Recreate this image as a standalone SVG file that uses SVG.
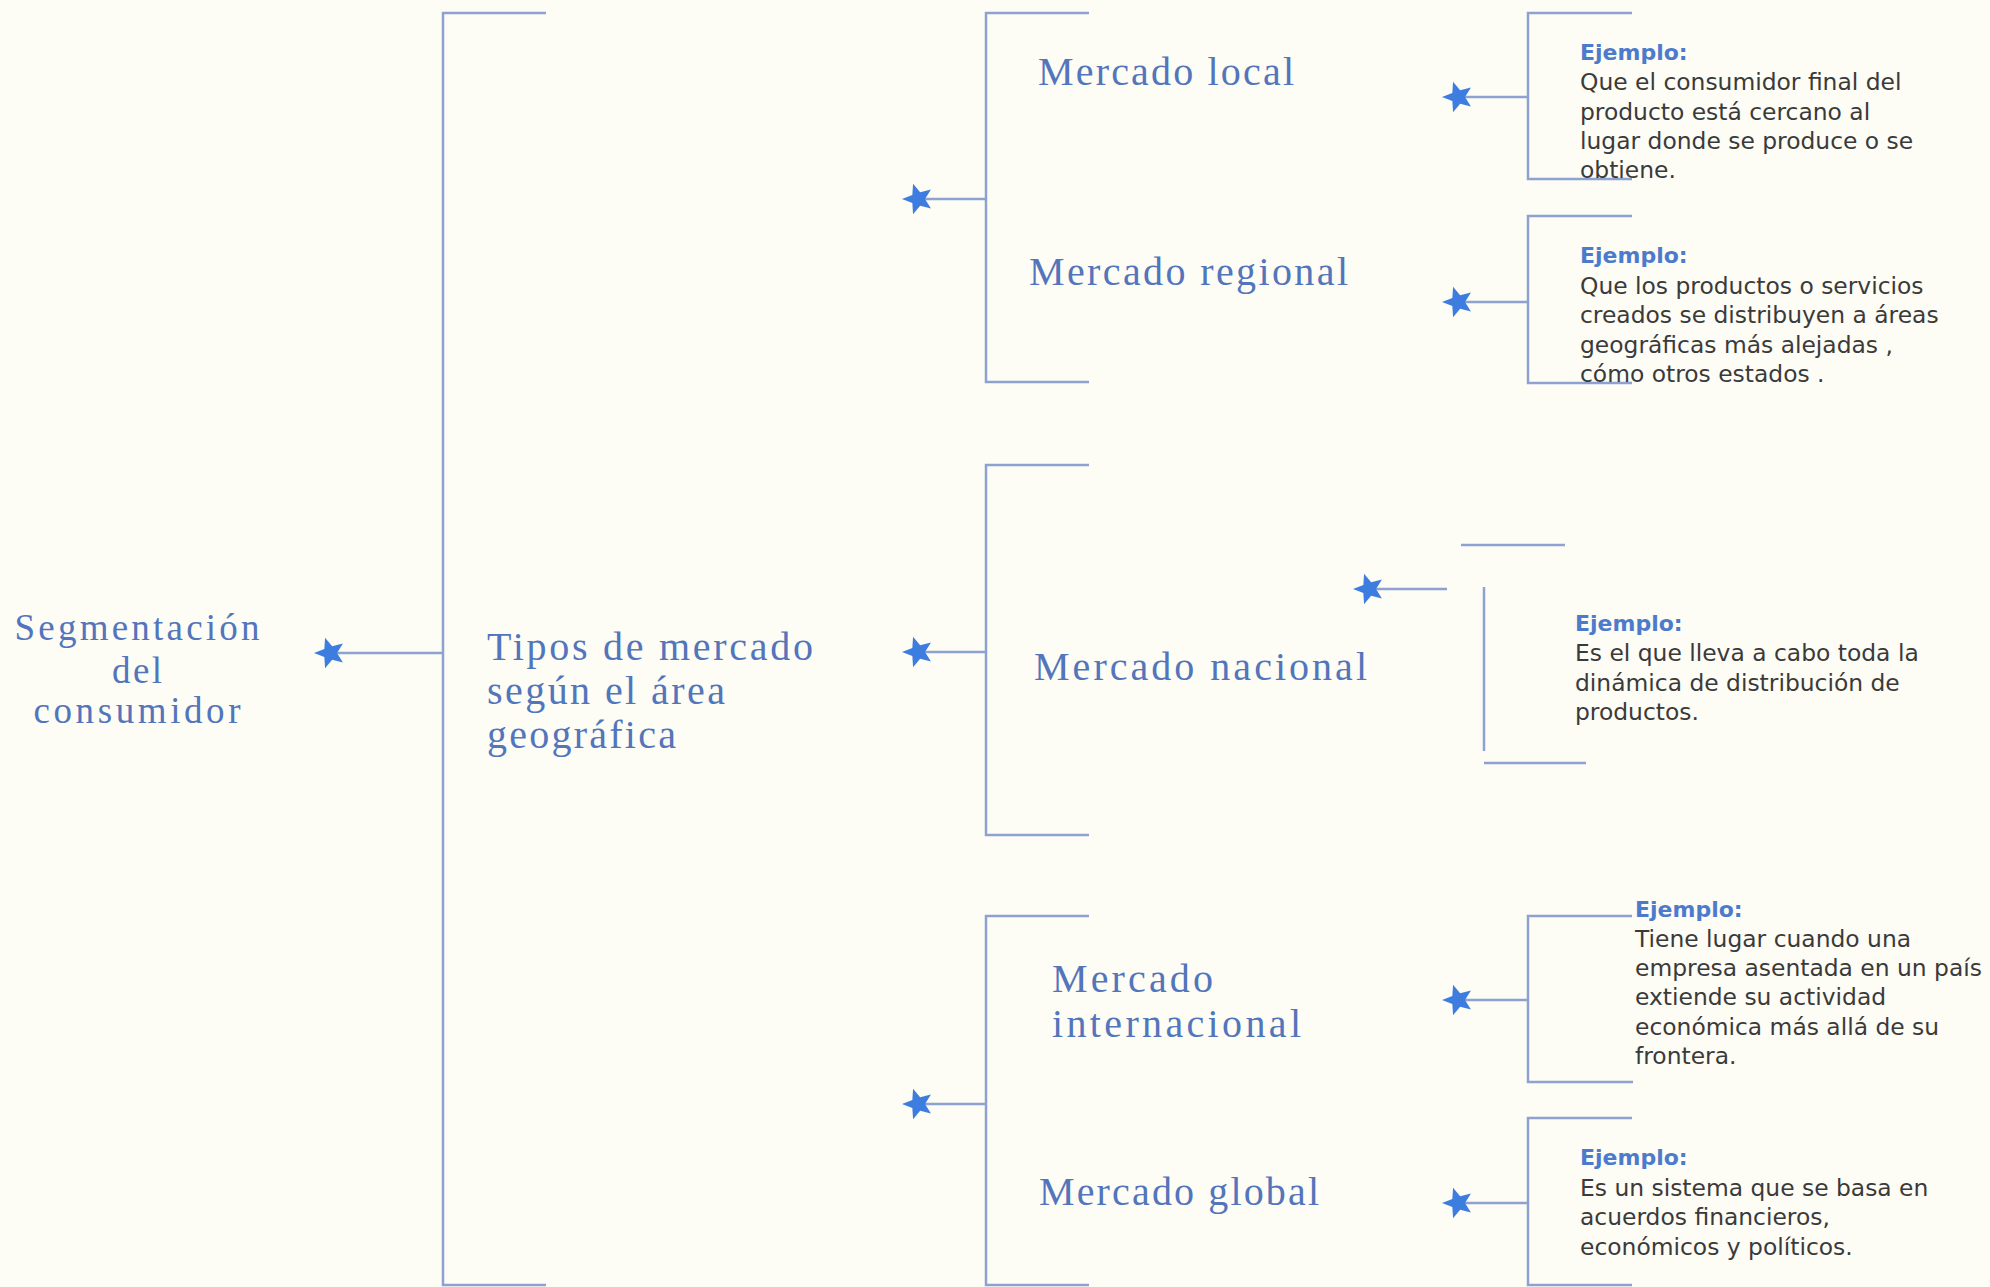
<svg xmlns="http://www.w3.org/2000/svg" width="1990" height="1287" viewBox="0 0 1990 1287">
<style>
.bg{fill:#fdfcf5}
.ln{fill:none;stroke:#8ea2d2;stroke-width:2.5}
.sl{fill:none;stroke:#8ea2d2;stroke-width:2.5;marker-start:url(#star)}
.t{font-family:"Liberation Serif","DejaVu Serif",serif;font-size:40px;fill:#5275bb}
.r{font-size:37px}
.h{font-family:"DejaVu Sans","Liberation Sans",sans-serif;font-size:22px;font-weight:bold;fill:#4d7bcc}
.b{font-family:"DejaVu Sans","Liberation Sans",sans-serif;font-size:23.4px;fill:#3a3a3a}
</style>
<defs>
<marker id="star" markerUnits="userSpaceOnUse" viewBox="-17 -17 34 34" markerWidth="34" markerHeight="34" refX="0" refY="0" orient="0">
<path d="M-16,0 L-5.66,-4.11 L-4.94,-15.22 L2.16,-6.66 L12.94,-9.4 L7,0 L12.94,9.4 L2.16,6.66 L-4.94,15.22 L-5.66,4.11 Z" fill="#3d7de0"/>
</marker>
</defs>
<rect class="bg" x="0" y="0" width="1990" height="1287"/>
<g id="connectors">
<path class="ln" d="M546,13 H443 V1285 H546"/>
<path class="ln" d="M1089,13 H986 V382 H1089"/>
<path class="ln" d="M1089,465 H986 V835 H1089"/>
<path class="ln" d="M1089,916 H986 V1285 H1089"/>
<path class="ln" d="M1632,13 H1528 V179 H1632"/>
<path class="ln" d="M1632,216 H1528 V383 H1632"/>
<path class="ln" d="M1461,545 H1565"/>
<path class="ln" d="M1484,587 V751"/>
<path class="ln" d="M1484,763 H1586"/>
<path class="ln" d="M1632,916 H1528 V1082 H1633"/>
<path class="ln" d="M1632,1118 H1528 V1285 H1632"/>
<path class="sl" d="M330,653 H443"/>
<path class="sl" d="M918,199 H986"/>
<path class="sl" d="M918,652 H986"/>
<path class="sl" d="M918,1104 H986"/>
<path class="sl" d="M1458,97 H1528"/>
<path class="sl" d="M1458,302 H1528"/>
<path class="sl" d="M1369,589 H1447"/>
<path class="sl" d="M1458,1000 H1528"/>
<path class="sl" d="M1458,1203 H1528"/>
</g>
<g id="root">
<text class="t r" x="137" y="640" text-anchor="middle" textLength="245">Segmentación</text>
<text class="t r" x="137" y="683" text-anchor="middle" textLength="50">del</text>
<text class="t r" x="137" y="723" text-anchor="middle" textLength="207">consumidor</text>
</g>
<g id="tipos">
<text class="t" x="487" y="660" textLength="326">Tipos de mercado</text>
<text class="t" x="487" y="704" textLength="238">según el área</text>
<text class="t" x="487" y="748" textLength="189">geográfica</text>
</g>
<g id="local"><text class="t" x="1038" y="85" textLength="256">Mercado local</text></g>
<g id="regional"><text class="t" x="1029" y="285" textLength="319">Mercado regional</text></g>
<g id="nacional"><text class="t" x="1034" y="680" textLength="333">Mercado nacional</text></g>
<g id="internacional">
<text class="t" x="1052" y="992" textLength="161">Mercado</text>
<text class="t" x="1052" y="1037" textLength="249">internacional</text>
</g>
<g id="global"><text class="t" x="1039" y="1205" textLength="280">Mercado global</text></g>
<g id="ej-local">
<text class="h" x="1580" y="60">Ejemplo:</text>
<text class="b"><tspan x="1580" y="90">Que el consumidor final del</tspan><tspan x="1580" y="120">producto está cercano al</tspan><tspan x="1580" y="149">lugar donde se produce o se</tspan><tspan x="1580" y="178">obtiene.</tspan></text>
</g>
<g id="ej-regional">
<text class="h" x="1580" y="263">Ejemplo:</text>
<text class="b"><tspan x="1580" y="294">Que los productos o servicios</tspan><tspan x="1580" y="323">creados se distribuyen a áreas</tspan><tspan x="1580" y="353">geográficas más alejadas ,</tspan><tspan x="1580" y="382">cómo otros estados .</tspan></text>
</g>
<g id="ej-nacional">
<text class="h" x="1575" y="631">Ejemplo:</text>
<text class="b"><tspan x="1575" y="661">Es el que lleva a cabo toda la</tspan><tspan x="1575" y="691">dinámica de distribución de</tspan><tspan x="1575" y="720">productos.</tspan></text>
</g>
<g id="ej-internacional">
<text class="h" x="1635" y="917">Ejemplo:</text>
<text class="b"><tspan x="1635" y="947">Tiene lugar cuando una</tspan><tspan x="1635" y="976">empresa asentada en un país</tspan><tspan x="1635" y="1005">extiende su actividad</tspan><tspan x="1635" y="1035">económica más allá de su</tspan><tspan x="1635" y="1064">frontera.</tspan></text>
</g>
<g id="ej-global">
<text class="h" x="1580" y="1165">Ejemplo:</text>
<text class="b"><tspan x="1580" y="1196">Es un sistema que se basa en</tspan><tspan x="1580" y="1225">acuerdos financieros,</tspan><tspan x="1580" y="1255">económicos y políticos.</tspan></text>
</g>
</svg>
